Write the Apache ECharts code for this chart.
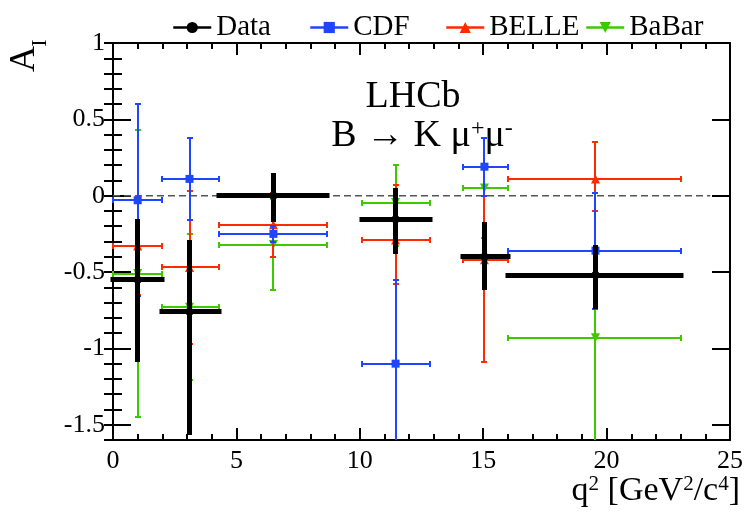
<!DOCTYPE html>
<html>
<head>
<meta charset="utf-8">
<title>A_I vs q2</title>
<script src="https://cdn.jsdelivr.net/npm/echarts@6/dist/echarts.min.js"></script>
<style>
  html, body { margin: 0; padding: 0; background: #fff; }
  #chart { width: 744px; height: 519px; }
</style>
</head>
<body>
<div id="chart"></div>
<script>
// q^2 bins shared by all measurements
const binLo = [0, 2, 4.3, 10.09, 14.18, 16];
const binHi = [2, 4.3, 8.68, 12.86, 16, 23];
const binMid = [1.0, 3.1, 6.5, 11.45, 15.05, 19.55];

// LHCb data
const dataY = [-0.55, -0.76, 0.0, -0.155, -0.40, -0.52];
const dataUp = [0.40, 0.47, 0.15, 0.205, 0.23, 0.20];
const dataDn = [0.54, 0.81, 0.17, 0.225, 0.22, 0.22];

// CDF
const cdfY = [-0.03, 0.11, -0.25, -1.10, 0.19, -0.36];
const cdfUp = [0.63, 0.27, 0.05, 0.55, 0.19, 0.38];
const cdfDn = [0.63, 0.27, 0.05, 0.55, 0.19, 0.38];

// BELLE
const belleY = [-0.33, -0.47, -0.19, -0.29, -0.42, 0.11];
const belleUp = [0.32, 0.50, 0.21, 0.36, 0.63, 0.24];
const belleDn = [0.32, 0.50, 0.21, 0.29, 0.67, 0.21];

// BaBar
const babarY = [-0.51, -0.73, -0.32, -0.045, 0.05, -0.93];
const babarUp = [0.94, 0.48, 0.30, 0.245, 0.33, 0.83];
const babarDn = [0.94, 0.48, 0.30, 0.285, 0.33, 0.83];

// axis ticks
const xTickStep = 5;
const yTicks = [-1.5, -1, -0.5, 0, 0.5, 1];
const yMinorStep = 0.1;
const zeroLineEnd = 24.2;

// legend entries
const legendNames = ["Data", "CDF", "BELLE", "BaBar"];
const legendLeft = [167, 304, 440, 580];

const FONT = "Liberation Serif";
const BLUE = "#1f45ff";
const RED = "#ff2a00";
const GREEN = "#3fc800";

const yMin = -1.6, yMax = 1;
const yMinor = [];
for (let k = 0; k <= Math.round((yMax - yMin) / yMinorStep); k++) {
  yMinor.push(Math.round((yMin + k * yMinorStep) * 10) / 10);
}

// [x, y, xlo, xhi, ytop, ybottom]
const buildBars = (ys, up, dn) =>
  ys.map((y, i) => [binMid[i], y, binLo[i], binHi[i], y + up[i], y - dn[i]]);
const buildPoints = (ys) => ys.map((y, i) => [binMid[i], y]);

// keep thin lines on whole pixels so overlapping bars don't blend
const snap = (v, w) => (Math.round(w) % 2 === 0 ? Math.round(v) : Math.floor(v) + 0.5);

const errorBars = (color, width, capHalf) => (params, api) => {
  const cs = params.coordSys;
  const top = cs.y, bottom = cs.y + cs.height;
  const p = api.coord([api.value(0), api.value(1)]);
  const l = api.coord([api.value(2), api.value(1)]);
  const r = api.coord([api.value(3), api.value(1)]);
  const u = api.coord([api.value(0), api.value(4)]);
  const d = api.coord([api.value(0), api.value(5)]);
  const px = snap(p[0], width), py = snap(p[1], width);
  const lx = Math.round(l[0]), rx = Math.round(r[0]);
  const uy = Math.max(Math.round(u[1]), top);
  const dy = Math.min(Math.round(d[1]), bottom);
  const hStyle = { stroke: color, lineWidth: width, lineCap: capHalf > 0 ? "butt" : "square" };
  const vStyle = { stroke: color, lineWidth: width, lineCap: "butt" };
  const children = [
    { type: "line", shape: { x1: lx, y1: py, x2: rx, y2: py }, style: hStyle },
    { type: "line", shape: { x1: px, y1: uy, x2: px, y2: dy }, style: vStyle },
  ];
  if (capHalf > 0) {
    children.push({ type: "line", shape: { x1: lx, y1: py - capHalf, x2: lx, y2: py + capHalf }, style: vStyle });
    children.push({ type: "line", shape: { x1: rx, y1: py - capHalf, x2: rx, y2: py + capHalf }, style: vStyle });
    if (u[1] >= top) {
      children.push({ type: "line", shape: { x1: px - capHalf, y1: uy, x2: px + capHalf, y2: uy }, style: vStyle });
    }
    if (d[1] <= bottom) {
      children.push({ type: "line", shape: { x1: px - capHalf, y1: dy, x2: px + capHalf, y2: dy }, style: vStyle });
    }
  }
  return { type: "group", children };
};

const barSeries = (name, ys, up, dn, color, width, cap, z) => ({
  name: name + " err",
  type: "custom",
  renderItem: errorBars(color, width, cap),
  data: buildBars(ys, up, dn),
  encode: { x: 0, y: 1 },
  z: z,
  silent: true,
});

const pointSeries = (name, ys, color, symbol, size, z) => ({
  name: name,
  type: "line",
  data: buildPoints(ys),
  symbol: symbol,
  symbolSize: size,
  showSymbol: true,
  itemStyle: { color: color },
  lineStyle: { color: color, width: 2, opacity: 0 },
  z: z,
  silent: true,
});

const axisLine = { show: true, onZero: false, lineStyle: { color: "#000", width: 2 } };
const tickStyle = { color: "#000", width: 2 };

const xBase = {
  type: "value",
  min: 0,
  max: 25,
  interval: xTickStep,
  axisLine: axisLine,
  axisTick: { show: true, inside: true, length: 12, lineStyle: tickStyle },
  minorTick: { show: true, splitNumber: 5, length: 6, lineStyle: tickStyle },
  splitLine: { show: false },
  minorSplitLine: { show: false },
};

const yMajor = (position, labels) => ({
  type: "value",
  position: position,
  min: yMin,
  max: yMax,
  axisLine: axisLine,
  axisTick: { show: true, inside: true, length: 18, lineStyle: tickStyle, customValues: yTicks },
  axisLabel: labels
    ? { show: true, customValues: yTicks, fontFamily: FONT, fontSize: 26, color: "#000", margin: 8 }
    : { show: false },
  splitLine: { show: false },
});

const yMinorAxis = (position) => ({
  type: "value",
  position: position,
  min: yMin,
  max: yMax,
  axisLine: { show: false },
  axisTick: { show: true, inside: true, length: 9, lineStyle: tickStyle, customValues: yMinor },
  axisLabel: { show: false },
  splitLine: { show: false },
});

const chart = echarts.init(document.getElementById("chart"), null, { renderer: "canvas" });

const option = {
  animation: false,
  backgroundColor: "#fff",
  grid: { left: 113, right: 14, top: 43, bottom: 79, containLabel: false, outerBoundsMode: "none" },
  legend: legendNames.map((n, i) => ({
    data: [n],
    left: legendLeft[i],
    top: 8,
    itemWidth: 38,
    itemHeight: 14,
    selectedMode: false,
    lineStyle: { width: 2.5, opacity: 1 },
    textStyle: { fontFamily: FONT, fontSize: 29, color: "#000" },
  })),
  xAxis: [
    Object.assign({}, xBase, {
      position: "bottom",
      axisLabel: { show: true, fontFamily: FONT, fontSize: 26, color: "#000", margin: 8 },
    }),
    Object.assign({}, xBase, { position: "top", axisLabel: { show: false } }),
  ],
  yAxis: [yMajor("left", true), yMajor("right", false), yMinorAxis("left"), yMinorAxis("right")],
  graphic: [
    {
      type: "text",
      x: 413,
      y: 97,
      style: { text: "LHCb", font: "38px " + FONT, fill: "#000", textAlign: "center", textVerticalAlign: "middle" },
    },
    {
      type: "text",
      x: 422,
      y: 136,
      style: {
        text: "B → K μ{sup|+}μ{sup|-}",
        font: "38px " + FONT,
        fill: "#000",
        textAlign: "center",
        textVerticalAlign: "middle",
        rich: { sup: { font: "24px " + FONT, verticalAlign: "top", fill: "#000" } },
      },
    },
    {
      type: "text",
      x: 25,
      y: 59,
      rotation: Math.PI / 2,
      style: { text: "A", font: "36px " + FONT, fill: "#000", textAlign: "center", textVerticalAlign: "middle" },
    },
    {
      type: "text",
      x: 40,
      y: 43,
      rotation: Math.PI / 2,
      style: { text: "I", font: "22px " + FONT, fill: "#000", textAlign: "center", textVerticalAlign: "middle" },
    },
    {
      type: "text",
      right: 4,
      top: 474,
      style: {
        text: "q{sup|2} [GeV{sup|2}/c{sup|4}]",
        font: "34px " + FONT,
        fill: "#000",
        rich: { sup: { font: "21px " + FONT, verticalAlign: "top", fill: "#000" } },
      },
    },
  ],
  series: [
    {
      name: "zero",
      type: "line",
      data: [[0, 0], [zeroLineEnd, 0]],
      symbol: "none",
      lineStyle: { color: "#555", width: 1.5, type: [7, 4] },
      z: 1,
      silent: true,
    },
    barSeries("BaBar", babarY, babarUp, babarDn, GREEN, 2, 3, 2),
    pointSeries("BaBar", babarY, GREEN, "path://M0,0 L10,0 L5,9 Z", 9, 2),
    barSeries("BELLE", belleY, belleUp, belleDn, RED, 2, 3, 3),
    pointSeries("BELLE", belleY, RED, "triangle", 9, 3),
    barSeries("CDF", cdfY, cdfUp, cdfDn, BLUE, 2, 3, 4),
    pointSeries("CDF", cdfY, BLUE, "rect", 8, 4),
    barSeries("Data", dataY, dataUp, dataDn, "#000", 5, 0, 5),
    pointSeries("Data", dataY, "#000", "circle", 8, 5),
  ],
};

chart.setOption(option);
</script>
</body>
</html>
